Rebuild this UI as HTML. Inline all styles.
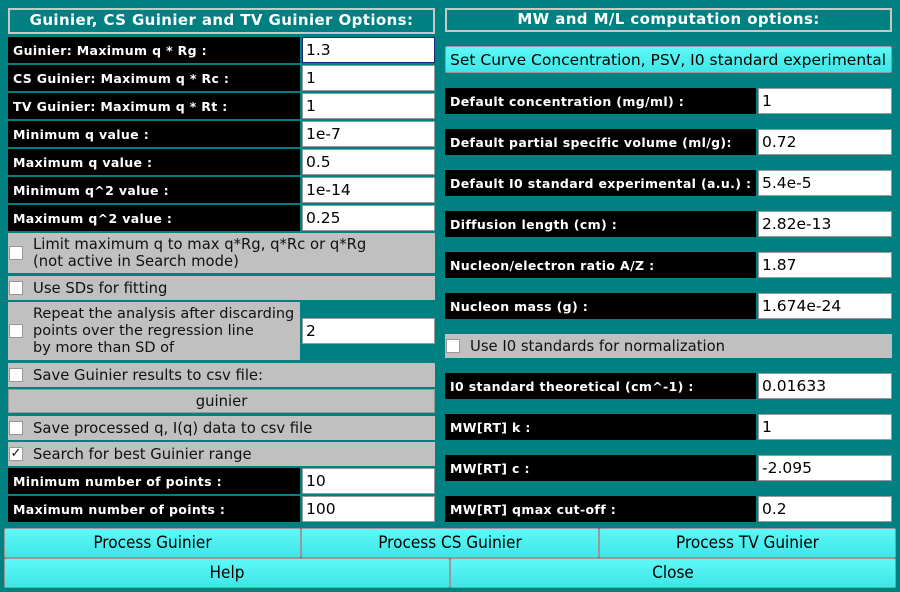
<!DOCTYPE html>
<html><head><meta charset="utf-8"><style>
*{margin:0;padding:0;box-sizing:border-box}
body{width:900px;height:592px;background:#008080;position:relative;overflow:hidden;font-family:"DejaVu Sans","Liberation Sans",sans-serif}
div{position:absolute}
.t{border:2px solid #c8c8c8;color:#fff;font-weight:bold;font-size:15px;text-align:center;line-height:21px;letter-spacing:0.4px}
.l{background:#000;color:#fff;font-weight:bold;font-size:12.5px;padding-left:5px;letter-spacing:0.35px;display:flex;align-items:center;white-space:nowrap}
.i{background:#fff;border:1px solid #999;font-size:15.5px;padding-left:3px;display:flex;align-items:center;color:#000}
.g{background:#c0c0c0;font-size:14.8px;color:#111;padding-left:25px;display:flex;align-items:center;line-height:17px;white-space:nowrap}
.cb{position:absolute;left:1px;width:14px;height:14px;background:#fff;border:1px solid #999;font-size:13px;line-height:12px;text-align:center;font-weight:bold}
.b{background:linear-gradient(#5ff8f8,#3ee6e6);border:1px solid #999;font-size:17px;font-family:"DejaVu Sans Condensed","DejaVu Sans",sans-serif;display:flex;align-items:center;justify-content:center;color:#000;border-radius:2px}
</style></head><body>
<div class="t" style="left:8px;top:8px;width:427px;height:26px">Guinier, CS Guinier and TV Guinier Options:</div>
<div class="l" style="left:8px;top:37px;width:292px;height:26px">Guinier: Maximum q * Rg :</div><div class="i" style="left:302px;top:37px;width:133px;height:26px;border-color:#22227a">1.3</div>
<div class="l" style="left:8px;top:65px;width:292px;height:26px">CS Guinier: Maximum q * Rc :</div><div class="i" style="left:302px;top:65px;width:133px;height:26px">1</div>
<div class="l" style="left:8px;top:93px;width:292px;height:26px">TV Guinier: Maximum q * Rt :</div><div class="i" style="left:302px;top:93px;width:133px;height:26px">1</div>
<div class="l" style="left:8px;top:121px;width:292px;height:26px">Minimum q value :</div><div class="i" style="left:302px;top:121px;width:133px;height:26px">1e-7</div>
<div class="l" style="left:8px;top:149px;width:292px;height:26px">Maximum q value :</div><div class="i" style="left:302px;top:149px;width:133px;height:26px">0.5</div>
<div class="l" style="left:8px;top:177px;width:292px;height:26px">Minimum q^2 value :</div><div class="i" style="left:302px;top:177px;width:133px;height:26px">1e-14</div>
<div class="l" style="left:8px;top:205px;width:292px;height:26px">Maximum q^2 value :</div><div class="i" style="left:302px;top:205px;width:133px;height:26px">0.25</div>
<div class="g" style="left:8px;top:233px;width:427px;height:40px"><span class="cb" style="top:13px"></span>Limit maximum q to max q*Rg, q*Rc or q*Rg<br>(not active in Search mode)</div>
<div class="g" style="left:8px;top:276px;width:427px;height:24px"><span class="cb" style="top:5px"></span>Use SDs for fitting</div>
<div class="g" style="left:8px;top:302px;width:292px;height:58px;font-size:14.5px;overflow:hidden"><span class="cb" style="top:22px"></span>Repeat the analysis after discarding<br>points over the regression line<br>by more than SD of</div>
<div class="i" style="left:302px;top:318px;width:133px;height:26px">2</div>
<div class="g" style="left:8px;top:363px;width:427px;height:24px"><span class="cb" style="top:5px"></span>Save Guinier results to csv file:</div>
<div class="g" style="left:8px;top:389px;width:427px;height:24px;padding:0;justify-content:center;border:1px solid #999">guinier</div>
<div class="g" style="left:8px;top:416px;width:427px;height:24px"><span class="cb" style="top:5px"></span>Save processed q, I(q) data to csv file</div>
<div class="g" style="left:8px;top:442px;width:427px;height:24px"><span class="cb" style="top:5px">✓</span>Search for best Guinier range</div>
<div class="l" style="left:8px;top:468px;width:292px;height:26px">Minimum number of points :</div><div class="i" style="left:302px;top:468px;width:133px;height:26px">10</div>
<div class="l" style="left:8px;top:496px;width:292px;height:26px">Maximum number of points :</div><div class="i" style="left:302px;top:496px;width:133px;height:26px">100</div>

<div class="t" style="left:445px;top:8px;width:447px;height:24px;line-height:19px">MW and M/L computation options:</div>
<div class="b" style="left:445px;top:46px;width:447px;height:27px;font-family:'DejaVu Sans',sans-serif;font-size:15.5px;justify-content:flex-start;padding-left:4px;white-space:nowrap">Set Curve Concentration, PSV, I0 standard experimental</div>
<div class="l" style="left:445px;top:88px;width:311px;height:26px">Default concentration (mg/ml) :</div><div class="i" style="left:758px;top:88px;width:134px;height:26px">1</div>
<div class="l" style="left:445px;top:129px;width:311px;height:26px">Default partial specific volume (ml/g):</div><div class="i" style="left:758px;top:129px;width:134px;height:26px">0.72</div>
<div class="l" style="left:445px;top:170px;width:311px;height:26px">Default I0 standard experimental (a.u.) :</div><div class="i" style="left:758px;top:170px;width:134px;height:26px">5.4e-5</div>
<div class="l" style="left:445px;top:211px;width:311px;height:26px">Diffusion length (cm) :</div><div class="i" style="left:758px;top:211px;width:134px;height:26px">2.82e-13</div>
<div class="l" style="left:445px;top:252px;width:311px;height:26px">Nucleon/electron ratio A/Z :</div><div class="i" style="left:758px;top:252px;width:134px;height:26px">1.87</div>
<div class="l" style="left:445px;top:293px;width:311px;height:26px">Nucleon mass (g) :</div><div class="i" style="left:758px;top:293px;width:134px;height:26px">1.674e-24</div>
<div class="g" style="left:445px;top:334px;width:447px;height:24px"><span class="cb" style="top:5px"></span>Use I0 standards for normalization</div>
<div class="l" style="left:445px;top:373px;width:311px;height:26px">I0 standard theoretical (cm^-1) :</div><div class="i" style="left:758px;top:373px;width:134px;height:26px">0.01633</div>
<div class="l" style="left:445px;top:414px;width:311px;height:26px">MW[RT] k :</div><div class="i" style="left:758px;top:414px;width:134px;height:26px">1</div>
<div class="l" style="left:445px;top:455px;width:311px;height:26px">MW[RT] c :</div><div class="i" style="left:758px;top:455px;width:134px;height:26px">-2.095</div>
<div class="l" style="left:445px;top:496px;width:311px;height:26px">MW[RT] qmax cut-off :</div><div class="i" style="left:758px;top:496px;width:134px;height:26px">0.2</div>

<div class="b" style="left:4px;top:528px;width:297px;height:30px">Process Guinier</div>
<div class="b" style="left:301px;top:528px;width:298px;height:30px">Process CS Guinier</div>
<div class="b" style="left:599px;top:528px;width:297px;height:30px">Process TV Guinier</div>
<div class="b" style="left:4px;top:558px;width:446px;height:30px">Help</div>
<div class="b" style="left:450px;top:558px;width:446px;height:30px">Close</div>
</body></html>
